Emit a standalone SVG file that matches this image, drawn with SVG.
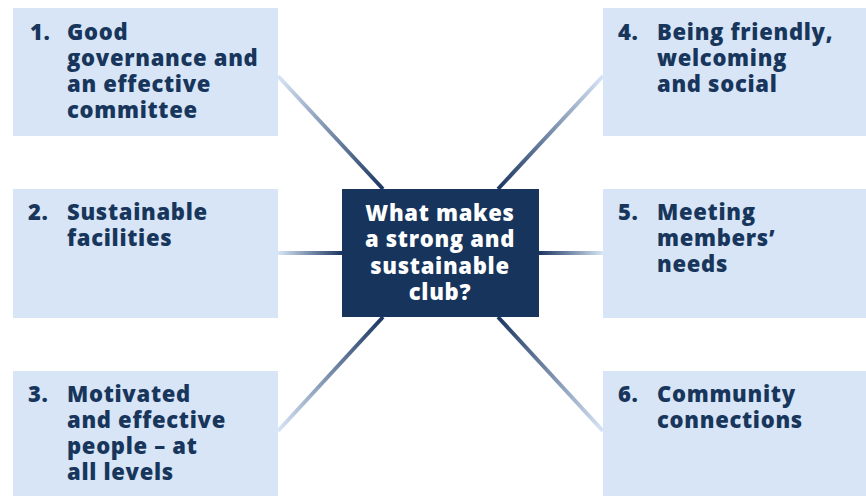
<svg xmlns="http://www.w3.org/2000/svg" width="866" height="496" viewBox="0 0 866 496">
<style>
.box{fill:#d7e5f6}
.t{font-family:"Open Sans","Liberation Sans",sans-serif;font-weight:800;font-size:22px;letter-spacing:0.7px;fill:#18365c}
.c{font-family:"Open Sans","Liberation Sans",sans-serif;font-weight:800;font-size:22px;letter-spacing:0.7px;fill:#ffffff;text-anchor:middle}
.ln{stroke-width:4;fill:none}
</style>
<defs>
<linearGradient id="gTL" gradientUnits="userSpaceOnUse" x1="278" y1="76" x2="383" y2="189"><stop offset="0" stop-color="#d7e5f6"/><stop offset="1" stop-color="#1b3660"/></linearGradient>
<linearGradient id="gTR" gradientUnits="userSpaceOnUse" x1="603" y1="76" x2="498" y2="189"><stop offset="0" stop-color="#d7e5f6"/><stop offset="1" stop-color="#1b3660"/></linearGradient>
<linearGradient id="gML" gradientUnits="userSpaceOnUse" x1="278" y1="0" x2="342" y2="0"><stop offset="0" stop-color="#d7e5f6"/><stop offset="1" stop-color="#1b3660"/></linearGradient>
<linearGradient id="gMR" gradientUnits="userSpaceOnUse" x1="603" y1="0" x2="539" y2="0"><stop offset="0" stop-color="#d7e5f6"/><stop offset="1" stop-color="#1b3660"/></linearGradient>
<linearGradient id="gBL" gradientUnits="userSpaceOnUse" x1="278" y1="431" x2="383" y2="317"><stop offset="0" stop-color="#d7e5f6"/><stop offset="1" stop-color="#1b3660"/></linearGradient>
<linearGradient id="gBR" gradientUnits="userSpaceOnUse" x1="603" y1="431" x2="498" y2="317"><stop offset="0" stop-color="#d7e5f6"/><stop offset="1" stop-color="#1b3660"/></linearGradient>
</defs>
<rect width="866" height="496" fill="#ffffff"/>
<g id="connectors">
<line class="ln" stroke="url(#gTL)" x1="278" y1="76" x2="383" y2="189"/>
<line class="ln" stroke="url(#gTR)" x1="603" y1="76" x2="498" y2="189"/>
<line class="ln" stroke="url(#gML)" x1="278" y1="253" x2="342" y2="253"/>
<line class="ln" stroke="url(#gMR)" x1="603" y1="253" x2="539" y2="253"/>
<line class="ln" stroke="url(#gBL)" x1="278" y1="431" x2="383" y2="317"/>
<line class="ln" stroke="url(#gBR)" x1="603" y1="431" x2="498" y2="317"/>
</g>
<g id="node1">
<rect class="box" x="13" y="8" width="265" height="128"/>
<text class="t" x="30" y="40">1.</text>
<text class="t" x="67" y="40">Good</text>
<text class="t" x="67" y="66">governance and</text>
<text class="t" x="67" y="92">an effective</text>
<text class="t" x="67" y="118">committee</text>
</g>
<g id="node2">
<rect class="box" x="13" y="189" width="265" height="129"/>
<text class="t" x="28" y="220">2.</text>
<text class="t" x="67" y="220">Sustainable</text>
<text class="t" x="67" y="246">facilities</text>
</g>
<g id="node3">
<rect class="box" x="13" y="371" width="265" height="125"/>
<text class="t" x="28" y="402">3.</text>
<text class="t" x="67" y="402">Motivated</text>
<text class="t" x="67" y="428">and effective</text>
<text class="t" x="67" y="454">people – at</text>
<text class="t" x="67" y="480">all levels</text>
</g>
<g id="node4">
<rect class="box" x="603" y="8" width="263" height="128"/>
<text class="t" x="618" y="40">4.</text>
<text class="t" x="657" y="40">Being friendly,</text>
<text class="t" x="657" y="66">welcoming</text>
<text class="t" x="657" y="92">and social</text>
</g>
<g id="node5">
<rect class="box" x="603" y="189" width="263" height="129"/>
<text class="t" x="618" y="220">5.</text>
<text class="t" x="657" y="220">Meeting</text>
<text class="t" x="657" y="246">members’</text>
<text class="t" x="657" y="272">needs</text>
</g>
<g id="node6">
<rect class="box" x="603" y="371" width="263" height="125"/>
<text class="t" x="618" y="402">6.</text>
<text class="t" x="657" y="402">Community</text>
<text class="t" x="657" y="428">connections</text>
</g>
<g id="center">
<rect x="342" y="189" width="197" height="128" fill="#17355c"/>
<text class="c" x="440" y="221">What makes</text>
<text class="c" x="440" y="247">a strong and</text>
<text class="c" x="440" y="274">sustainable</text>
<text class="c" x="440" y="300">club?</text>
</g>
</svg>
